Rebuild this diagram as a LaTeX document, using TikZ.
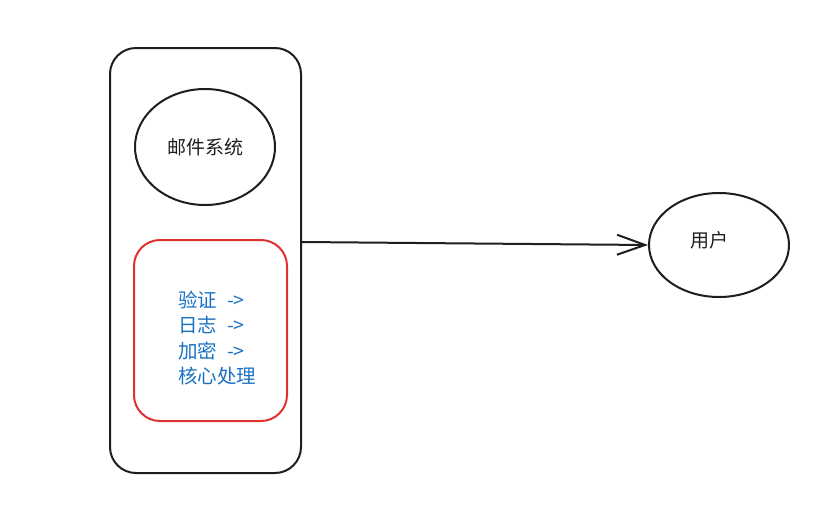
\documentclass[tikz,border=0pt]{standalone}
\usepackage{fontspec}
\setmainfont{Noto Sans CJK SC}
\usetikzlibrary{positioning,shapes.geometric,arrows.meta}
\definecolor{inkBlack}{HTML}{1E1E1E}
\definecolor{inkRed}{HTML}{E03131}
\definecolor{inkBlue}{HTML}{1971C2}
\tikzset{
	%Diagram styles
	system/.style={
		draw=inkBlack,
		rectangle,
		rounded corners=26pt,
		line width=2pt,
		minimum width=191pt,
		minimum height=425pt,
	},
	pipeline/.style={
		draw=inkRed,
		rectangle,
		rounded corners=26pt,
		line width=2pt,
		minimum width=153pt,
		minimum height=181pt,
	},
	actor/.style={
		draw=inkBlack,
		ellipse,
		line width=2pt,
		inner sep=0pt,
		text=inkBlack,
		font=\fontsize{19}{22}\selectfont,
	},
	stepsText/.style={
		text=inkBlue,
		align=left,
		inner sep=0pt,
		font=\fontsize{19.5}{25.3}\selectfont,
	},
	flow/.style={
		draw=inkBlack,
		line width=2pt,
		-{Straight Barb[length=28pt,width=20pt,line width=2pt]},
	},
}
\begin{document}
\begin{tikzpicture}[x=1pt,y=-1pt]
	\useasboundingbox (0,0) rectangle (837,512);

	\node [system] (mail) at (205.5,260.5) {};
	\node [actor, minimum width=140pt, minimum height=116pt] (mailSys) at (205,147) {邮件系统};
	\node [pipeline] (core) at (210.5,330.5) {};
	\node [stepsText, anchor=west] (steps) at (178,338) {验证\hspace{10pt}->\\日志\hspace{10pt}->\\加密\hspace{10pt}->\\核心处理};

	\node [actor, minimum width=140pt, minimum height=104pt] (user) at (719,245) {\raisebox{12pt}{用户}\hspace{20pt}\mbox{}};

	\draw[flow] ([yshift=18.5pt]mail.east) -- (user.west);
\end{tikzpicture}
\end{document}
